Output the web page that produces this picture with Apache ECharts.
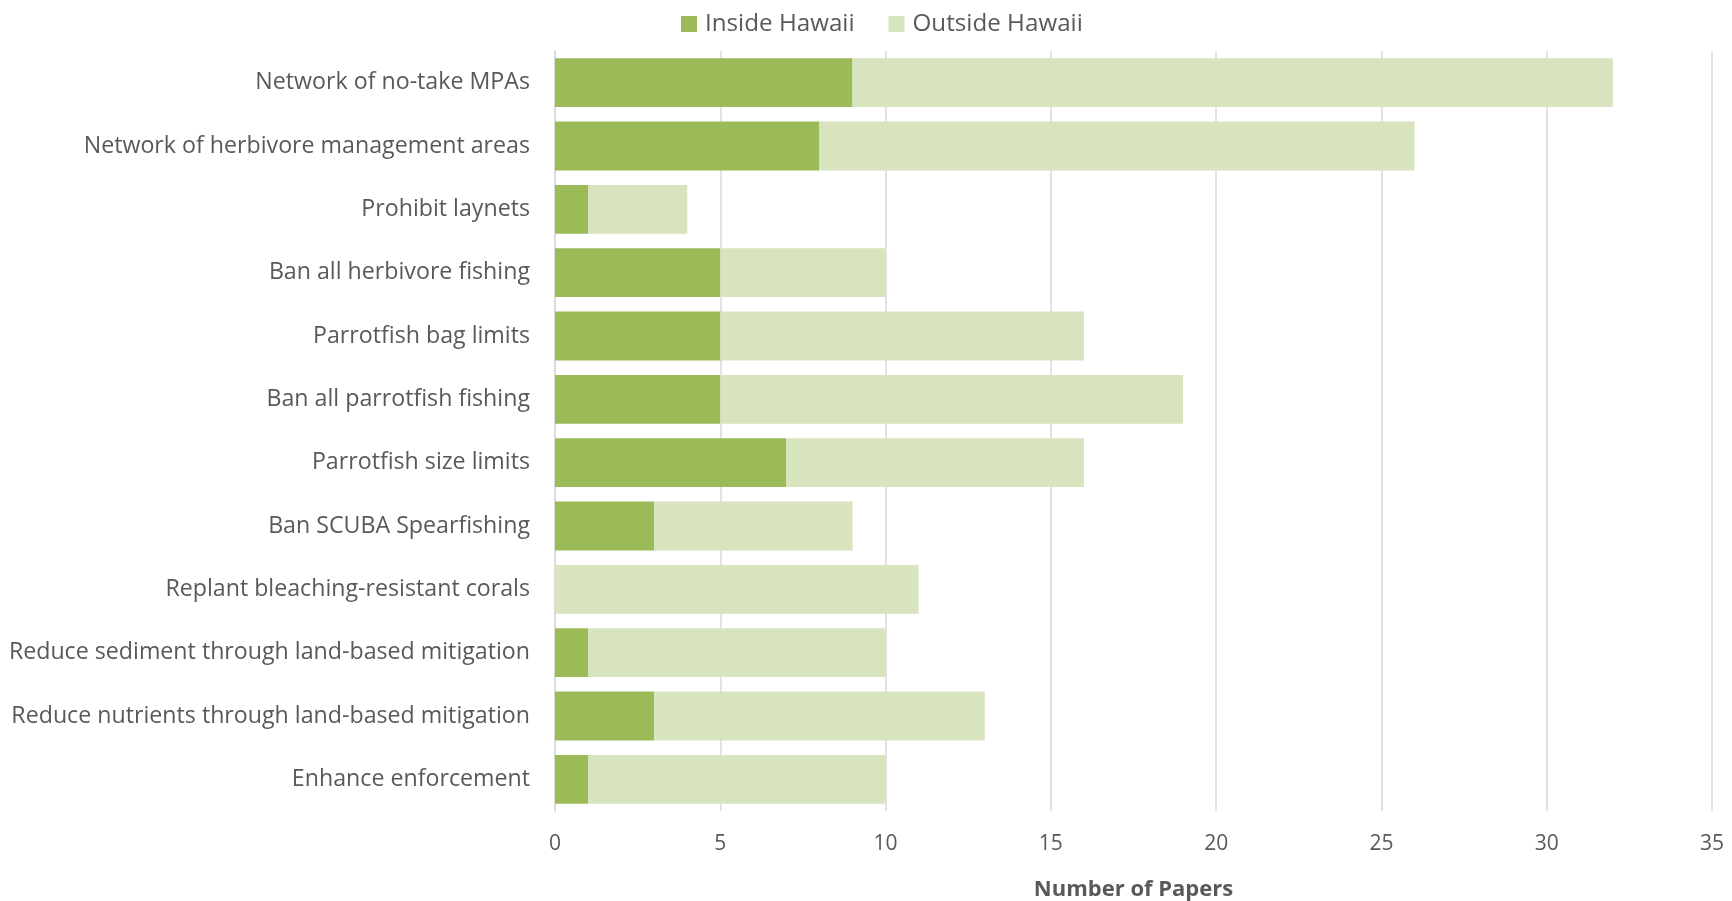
<!DOCTYPE html>
<html>
<head>
<meta charset="utf-8">
<script src="https://cdn.jsdelivr.net/npm/echarts@6/dist/echarts.min.js"></script>
<style>
  html, body { margin: 0; padding: 0; background: #ffffff; }
  #chart { width: 1732px; height: 901px; }
</style>
</head>
<body>
<div id="chart"></div>
<script>
// Management strategies, listed top to bottom
const categories = [
  'Network of no-take MPAs',
  'Network of herbivore management areas',
  'Prohibit laynets',
  'Ban all herbivore fishing',
  'Parrotfish bag limits',
  'Ban all parrotfish fishing',
  'Parrotfish size limits',
  'Ban SCUBA Spearfishing',
  'Replant bleaching-resistant corals',
  'Reduce sediment through land-based mitigation',
  'Reduce nutrients through land-based mitigation',
  'Enhance enforcement'
];
// Papers studying each strategy inside Hawaii
const insideHawaii = [9, 8, 1, 5, 5, 5, 7, 3, 0, 1, 3, 1];
// Papers studying each strategy outside Hawaii
const outsideHawaii = [23, 18, 3, 5, 11, 14, 9, 6, 11, 9, 10, 9];
// Value axis ticks
const xTicks = [0, 5, 10, 15, 20, 25, 30, 35];

const FONT = '"Open Sans", sans-serif';
const TEXT = '#595959';

const chart = echarts.init(document.getElementById('chart'), null, { renderer: 'canvas' });
chart.setOption({
  animation: false,
  textStyle: { fontFamily: FONT },
  legend: {
    top: 7,
    left: 676,
    itemWidth: 16,
    itemHeight: 16,
    itemGap: 34,
    icon: 'rect',
    textStyle: { fontFamily: FONT, fontSize: 24.2, color: TEXT, padding: [0, 0, 0, 3] },
    data: ['Inside Hawaii', 'Outside Hawaii']
  },
  grid: {
    left: 555, right: 20, top: 51, bottom: 90,
    containLabel: false,
    outerBoundsMode: 'none'
  },
  xAxis: {
    type: 'value',
    min: xTicks[0],
    max: xTicks[xTicks.length - 1],
    interval: xTicks[1] - xTicks[0],
    name: 'Number of Papers',
    nameLocation: 'middle',
    nameGap: 68,
    nameTextStyle: { fontFamily: FONT, fontSize: 22, fontWeight: 'bold', color: TEXT },
    axisLine: { show: false },
    axisTick: { show: false },
    axisLabel: { margin: 23, fontFamily: FONT, fontSize: 21, color: TEXT },
    splitLine: { show: true, lineStyle: { color: '#d9d9d9', width: 1.5 } }
  },
  yAxis: {
    type: 'category',
    inverse: true,
    data: categories,
    axisLine: { show: true, lineStyle: { color: '#d9d9d9', width: 1.5 } },
    axisTick: { show: false },
    axisLabel: { margin: 25, fontFamily: FONT, fontSize: 23.2, color: TEXT }
  },
  series: [
    {
      name: 'Inside Hawaii',
      type: 'bar',
      stack: 'papers',
      barCategoryGap: '23%',
      itemStyle: { color: '#9bbb59' },
      data: insideHawaii
    },
    {
      name: 'Outside Hawaii',
      type: 'bar',
      stack: 'papers',
      barCategoryGap: '23%',
      itemStyle: { color: '#d7e4bd' },
      data: outsideHawaii
    }
  ]
});
</script>
</body>
</html>
